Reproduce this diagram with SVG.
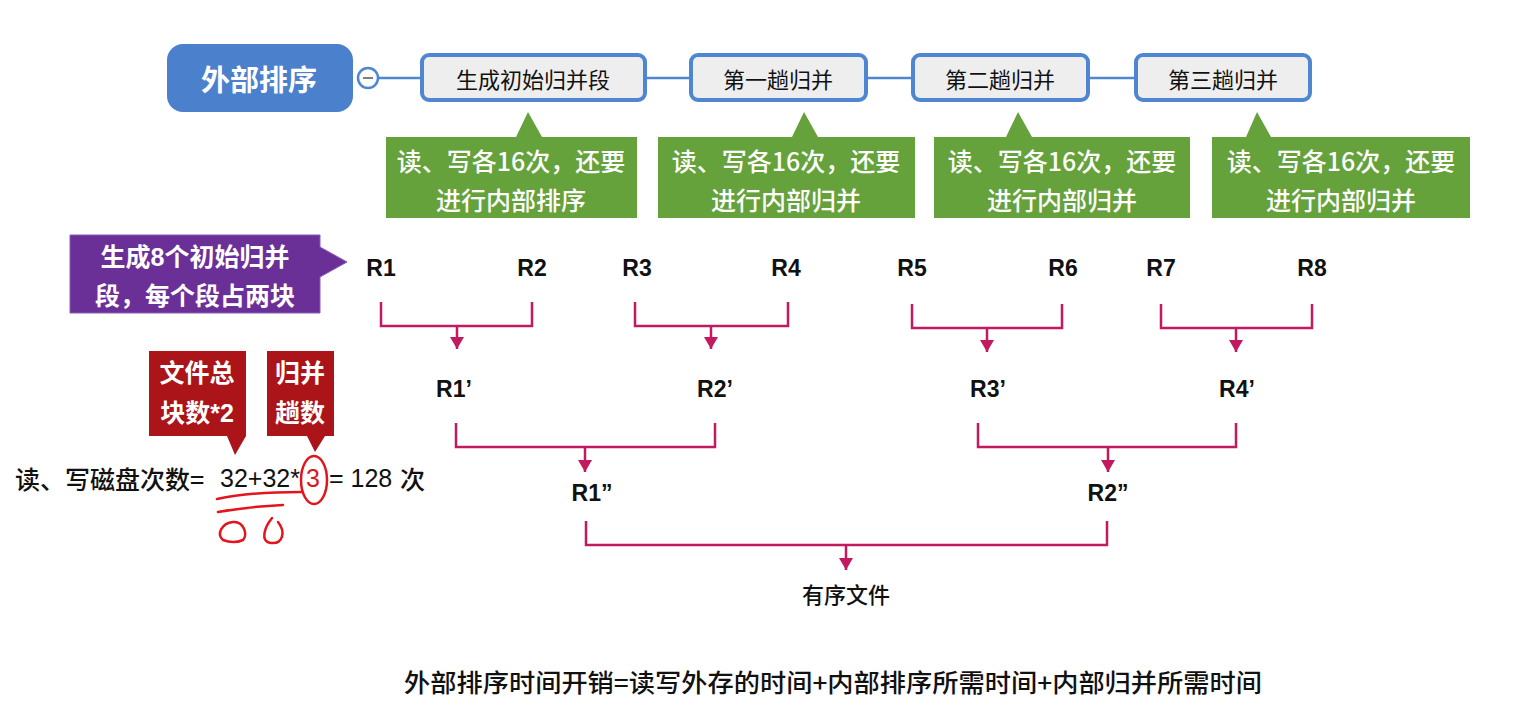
<svg xmlns="http://www.w3.org/2000/svg" width="1518" height="710" viewBox="0 0 1518 710">
<defs>
<style>
.cjk{font-family:"Noto Sans CJK SC","Liberation Sans",sans-serif}
.top{font-family:"Noto Sans CJK SC",sans-serif;font-size:22px;fill:#111;text-anchor:middle;dominant-baseline:central}
.topbox{fill:#eeeeee;stroke:#4f86d2;stroke-width:4}
.blue{stroke:#4f86d2;stroke-width:2.5;fill:none}
.green{fill:#66a23c}
.gtxt{font-family:"Noto Sans CJK SC",sans-serif;font-size:25px;font-weight:500;fill:#fff;text-anchor:middle;dominant-baseline:central}
.wtxt{font-family:"Liberation Sans","Noto Sans CJK SC",sans-serif;font-size:25px;font-weight:bold;fill:#fff;text-anchor:middle;dominant-baseline:central}
.r{font-family:"Liberation Sans","Noto Sans CJK SC",sans-serif;font-size:23px;font-weight:bold;fill:#111;text-anchor:middle;dominant-baseline:central}
.con{stroke:#c2195f;stroke-width:2.5;fill:none}
.hand{stroke:#e3141c;stroke-width:2.5;fill:none;stroke-linecap:round;stroke-linejoin:round}
</style>
<marker id="ah" viewBox="0 0 12 14" refX="12" refY="7" markerWidth="12" markerHeight="14" markerUnits="userSpaceOnUse" orient="auto">
<path d="M0,0 L12,7 L0,14 Z" fill="#c2195f"/>
</marker>
</defs>
<rect width="1518" height="710" fill="#ffffff"/>

<g id="topline">
<path class="blue" d="M378,78 H420 M647,78 H689 M868,78 H911 M1090,78 H1134"/>
</g>

<g id="main">
<rect x="167" y="44" width="186" height="68" rx="16" fill="#4b80cd"/>
<text x="259" y="78" class="cjk" font-size="29" font-weight="bold" fill="#fff" text-anchor="middle" dominant-baseline="central">外部排序</text>
<circle cx="368" cy="78" r="10" fill="#fff" stroke="#4f86d2" stroke-width="2.5"/>
<line x1="363" y1="78" x2="373" y2="78" stroke="#555" stroke-width="1.5"/>
</g>

<g id="n1"><rect class="topbox" x="422" y="55" width="223" height="45" rx="7"/><text class="top" x="533" y="78">生成初始归并段</text></g>
<g id="n2"><rect class="topbox" x="691" y="55" width="175" height="45" rx="7"/><text class="top" x="778" y="78">第一趟归并</text></g>
<g id="n3"><rect class="topbox" x="913" y="55" width="175" height="45" rx="7"/><text class="top" x="1000" y="78">第二趟归并</text></g>
<g id="n4"><rect class="topbox" x="1136" y="55" width="174" height="45" rx="7"/><text class="top" x="1223" y="78">第三趟归并</text></g>

<g id="g1"><path class="green" d="M386,137 H516 L528,112 L542,137 H637 V218 H386 Z"/>
<text class="gtxt" x="511" y="160">读、写各16次，还要</text><text class="gtxt" x="511" y="199">进行内部排序</text></g>
<g id="g2"><path class="green" d="M658,137 H792 L804,112 L818,137 H915 V218 H658 Z"/>
<text class="gtxt" x="786" y="160">读、写各16次，还要</text><text class="gtxt" x="786" y="199">进行内部归并</text></g>
<g id="g3"><path class="green" d="M934,137 H1006 L1018,112 L1032,137 H1190 V218 H934 Z"/>
<text class="gtxt" x="1062" y="160">读、写各16次，还要</text><text class="gtxt" x="1062" y="199">进行内部归并</text></g>
<g id="g4"><path class="green" d="M1212,137 H1246 L1257,112 L1271,137 H1470 V218 H1212 Z"/>
<text class="gtxt" x="1341" y="160">读、写各16次，还要</text><text class="gtxt" x="1341" y="199">进行内部归并</text></g>

<g id="purple"><path d="M70,235 H320 V247 L347,262 L320,277 V313 H70 Z" fill="#6b2f98" stroke="#8b5cb8" stroke-width="1"/>
<text class="wtxt" x="195" y="257">生成8个初始归并</text><text class="wtxt" x="195" y="296">段，每个段占两块</text></g>

<g id="red1"><path d="M149,351 H246 V436 H246 L235,455 L227,436 H149 Z" fill="#ab1419"/>
<text class="wtxt" x="197" y="373">文件总</text><text class="wtxt" x="197" y="413">块数*2</text></g>
<g id="red2"><path d="M267,351 H334 V436 H325 L315,452 L307,436 H267 Z" fill="#ab1419"/>
<text class="wtxt" x="300" y="373">归并</text><text class="wtxt" x="300" y="413">趟数</text></g>

<g id="rlabels">
<text class="r" x="381" y="268">R1</text><text class="r" x="532" y="268">R2</text>
<text class="r" x="637" y="268">R3</text><text class="r" x="786" y="268">R4</text>
<text class="r" x="912" y="268">R5</text><text class="r" x="1063" y="268">R6</text>
<text class="r" x="1161" y="268">R7</text><text class="r" x="1312" y="268">R8</text>
<text class="r" x="454" y="389">R1’</text><text class="r" x="715" y="389">R2’</text>
<text class="r" x="988" y="389">R3’</text><text class="r" x="1237" y="389">R4’</text>
<text class="r" x="592" y="493">R1”</text><text class="r" x="1108" y="493">R2”</text>
<text class="cjk" x="846" y="593" font-size="22" font-weight="500" fill="#111" text-anchor="middle" dominant-baseline="central">有序文件</text>
</g>

<g id="connectors">
<path class="con" d="M381,302 V326 H532 V302"/><path class="con" d="M457,326 V349" marker-end="url(#ah)"/>
<path class="con" d="M635,302 V326 H788 V302"/><path class="con" d="M711,326 V349" marker-end="url(#ah)"/>
<path class="con" d="M912,304 V328 H1062 V304"/><path class="con" d="M987,328 V352" marker-end="url(#ah)"/>
<path class="con" d="M1161,304 V328 H1312 V304"/><path class="con" d="M1236,328 V352" marker-end="url(#ah)"/>
<path class="con" d="M456,423 V447 H715 V423"/><path class="con" d="M585,447 V472" marker-end="url(#ah)"/>
<path class="con" d="M978,423 V447 H1236 V423"/><path class="con" d="M1108,447 V472" marker-end="url(#ah)"/>
<path class="con" d="M586,521 V545 H1107 V521"/><path class="con" d="M846,545 V570" marker-end="url(#ah)"/>
</g>

<g id="formula">
<text class="cjk" y="478" font-size="25" font-weight="500" fill="#111" dominant-baseline="central"><tspan x="15">读、写磁盘次数=</tspan><tspan x="220" font-family="Liberation Sans,sans-serif">32+32*</tspan><tspan x="306" fill="#d41a1f" font-family="Liberation Sans,sans-serif">3</tspan><tspan x="322" font-family="Liberation Sans,sans-serif"> = 128 </tspan><tspan x="400">次</tspan></text>
<ellipse class="hand" cx="314" cy="480" rx="13" ry="24"/>
<path class="hand" d="M217,499 C240,494 270,492 301,492"/>
<path class="hand" d="M218,512 C240,508 262,506 283,505"/>
<path class="hand" d="M223,540 C216,534 222,523 233,522 C244,521 248,535 243,540 C236,543 228,542 223,540"/>
<path class="hand" d="M272,518 C264,528 260,542 271,543 C283,544 286,532 278,522"/>
</g>

<text id="bottom" class="cjk" x="404" y="681" font-size="25" font-weight="500" fill="#111" dominant-baseline="central" textLength="858" lengthAdjust="spacingAndGlyphs">外部排序时间开销=读写外存的时间+内部排序所需时间+内部归并所需时间</text>
</svg>
